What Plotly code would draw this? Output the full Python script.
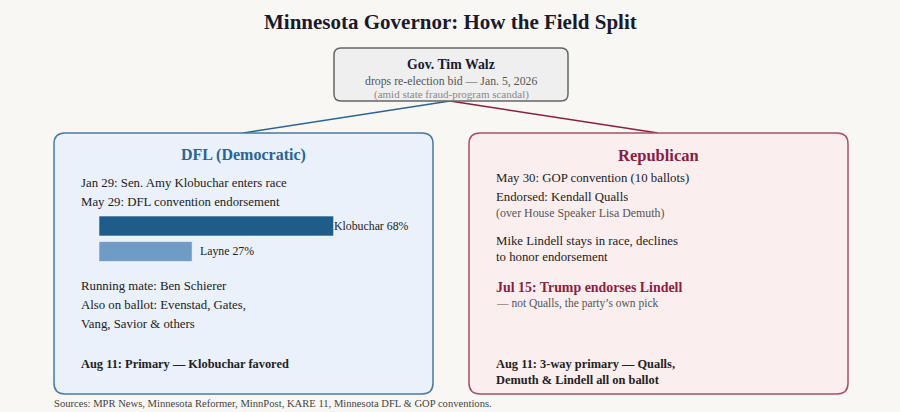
import plotly.graph_objects as go

# convention endorsement vote share (%)
candidates = ["Klobuchar", "Layne"]
shares = [68, 27]
bar_colors = ["#1f5c8a", "#6f9bc5"]

title = "Minnesota Governor: How the Field Split"
top_lines = ["Gov. Tim Walz", "drops re-election bid \u2014 Jan. 5, 2026",
             "(amid state fraud-program scandal)"]
dfl_lines = ["Jan 29: Sen. Amy Klobuchar enters race",
             "May 29: DFL convention endorsement"]
dfl_lines2 = ["Running mate: Ben Schierer",
              "Also on ballot: Evenstad, Gates,",
              "Vang, Savior & others"]
dfl_bottom = "Aug 11: Primary \u2014 Klobuchar favored"
gop_lines = ["May 30: GOP convention (10 ballots)",
             "Endorsed: Kendall Qualls"]
gop_note = "(over House Speaker Lisa Demuth)"
gop_lines2 = ["Mike Lindell stays in race, declines", "to honor endorsement"]
gop_trump = "Jul 15: Trump endorses Lindell"
gop_trump_note = "\u2014 not Qualls, the party\u2019s own pick"
gop_bottom = ["Aug 11: 3-way primary \u2014 Qualls,", "Demuth & Lindell all on ballot"]
sources = "Sources: MPR News, Minnesota Reformer, MinnPost, KARE 11, Minnesota DFL & GOP conventions."

W, H = 900, 412
FONT = "Georgia, 'Liberation Serif', 'DejaVu Serif', serif"
BLUE = "#2a6496"
RED = "#8b1e3f"
INK = "#222222"
BODY = 12.8


def rounded(x0, y0, x1, y1, r):
    return (f"M{x0 + r},{y0} L{x1 - r},{y0} Q{x1},{y0} {x1},{y0 + r} "
            f"L{x1},{y1 - r} Q{x1},{y1} {x1 - r},{y1} L{x0 + r},{y1} "
            f"Q{x0},{y1} {x0},{y1 - r} L{x0},{y0 + r} Q{x0},{y0} {x0 + r},{y0} Z")


fig = go.Figure()

fig.add_trace(go.Bar(
    x=shares, y=candidates, orientation="h",
    marker=dict(color=bar_colors, line=dict(color="rgba(255,255,255,0.5)", width=1)),
    width=0.78, xaxis="x2", yaxis="y2", hoverinfo="skip", showlegend=False,
))

shapes = [
    dict(type="line", x0=450, y0=101, x1=243, y1=133, line=dict(color=BLUE, width=1.5), layer="below"),
    dict(type="line", x0=450, y0=101, x1=658, y1=133, line=dict(color=RED, width=1.5), layer="below"),
    dict(type="path", path=rounded(334, 48, 568, 101, 7), fillcolor="#efefef",
         line=dict(color="#666666", width=1.5), layer="below"),
    dict(type="path", path=rounded(54, 133, 433, 394, 11), fillcolor="#eaf1fa",
         line=dict(color="#4a7aa6", width=1.5), layer="below"),
    dict(type="path", path=rounded(469, 133, 848, 394, 11), fillcolor="#fbeeef",
         line=dict(color="#a8506c", width=1.5), layer="below"),
]
for s in shapes:
    s.update(xref="x", yref="y")

annotations = []


def txt(x, y, s, size=BODY, color=INK, bold=False, anchor="left"):
    if bold:
        s = f"<b>{s}</b>"
    if anchor == "left":
        x -= 2  # compensate annotation padding
    annotations.append(dict(x=x, y=y, xref="x", yref="y", text=s, showarrow=False,
                            xanchor=anchor, yanchor="middle",
                            font=dict(family=FONT, size=size, color=color)))


txt(450, 22, title, size=21, color="#1a1a2e", bold=True, anchor="center")
txt(451, 64, top_lines[0], size=13.8, color="#1a1a2e", bold=True, anchor="center")
txt(451, 81, top_lines[1], size=11.8, color="#555555", anchor="center")
txt(451, 94, top_lines[2], size=11, color="#888888", anchor="center")

txt(243, 155, "DFL (Democratic)", size=16, color=BLUE, bold=True, anchor="center")
for y, s in zip([183, 202], dfl_lines):
    txt(81, y, s)
for y, s in zip([286, 305, 324], dfl_lines2):
    txt(81, y, s)
txt(81, 364, dfl_bottom, size=12.4, bold=True)

txt(658, 155, "Republican", size=16.5, color=RED, bold=True, anchor="center")
for y, s in zip([178, 197], gop_lines):
    txt(496, y, s)
txt(496, 213, gop_note, size=11.9, color="#555555")
for y, s in zip([241, 257], gop_lines2):
    txt(496, y, s)
txt(496, 287, gop_trump, size=13.9, color=RED, bold=True)
txt(496, 303, gop_trump_note, size=11.5, color="#555555")
for y, s in zip([364, 380], gop_bottom):
    txt(496, y, s, size=12.4, bold=True)

txt(54, 403, sources, size=10.6, color="#444444")

# bar value labels
for i, (name, val) in enumerate(zip(candidates, shares)):
    annotations.append(dict(x=val, y=name, xref="x2", yref="y2", text=f"{name} {val}%",
                            showarrow=False, xanchor="left", yanchor="middle",
                            xshift=-2 if i == 0 else 6,
                            font=dict(family=FONT, size=11.8, color=INK)))

fig.update_layout(
    width=W, height=H,
    margin=dict(l=0, r=0, t=0, b=0),
    paper_bgcolor="#f9f7f3", plot_bgcolor="rgba(0,0,0,0)",
    xaxis=dict(range=[0, W], visible=False, fixedrange=True),
    yaxis=dict(range=[H, 0], visible=False, fixedrange=True),
    xaxis2=dict(range=[0, 100], domain=[99 / W, 444 / W], anchor="y2", visible=False,
                fixedrange=True),
    yaxis2=dict(range=[1.5, -0.5], domain=[1 - 264.25 / H, 1 - 213.25 / H],
                anchor="x2", visible=False, fixedrange=True),
    shapes=shapes, annotations=annotations,
    bargap=0.2,
)

fig.write_html("out.html", config={"displayModeBar": False},
               post_script="document.body.style.margin='0';")
